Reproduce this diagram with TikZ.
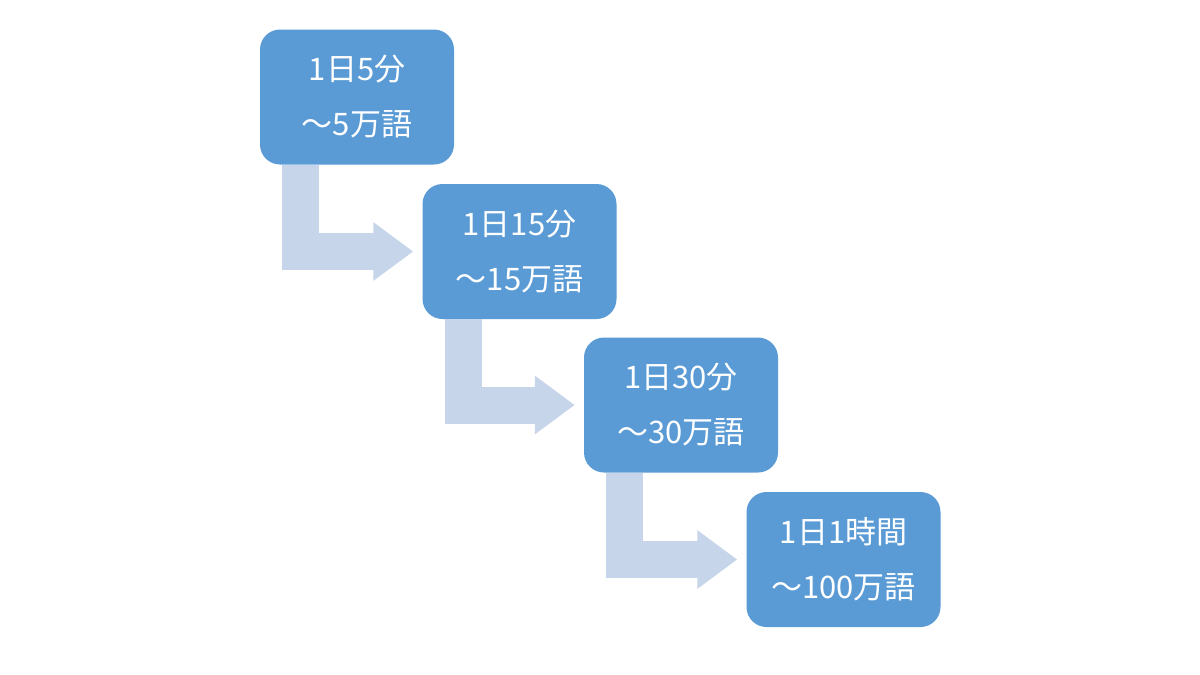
\documentclass[tikz,border=0pt]{standalone}
\usepackage{fontspec}
\setmainfont{Noto Sans CJK JP}
\usetikzlibrary{arrows.meta}
\definecolor{stepfill}{HTML}{5B9BD5}
\definecolor{bendfill}{HTML}{C6D5EA}

\begin{document}
\begin{tikzpicture}[
  x=1pt,
  y=-1pt,
  every node/.style={font=\fontsize{31}{55}\selectfont, white},
  stepbox/.style={fill=stepfill, rounded corners=20pt, minimum width=194pt,
    minimum height=135pt, inner sep=0pt, align=center},
  bendarrow/.style={draw=bendfill, line width=37pt, line join=miter,
    -{Triangle[length=40pt, width=56pt]}, shorten >=9pt}
]
\useasboundingbox (0,0) rectangle (1200,675);

% =====================================================================
% the four steps
% =====================================================================
\node[stepbox] (one)   at (357,97)    {1日5分\\～5万語};
\node[stepbox] (two)   at (519.5,251.5) {1日15分\\～15万語};
\node[stepbox] (three) at (681,405)   {1日30分\\～30万語};
\node[stepbox] (four)  at (843.5,559.5) {1日1時間\\～100万語};

% =====================================================================
% bent arrows between the steps
% =====================================================================
\draw[bendarrow] ([xshift=-56.5pt]one.south)   |- (two.west);
\draw[bendarrow] ([xshift=-56.5pt]two.south)   |- (three.west);
\draw[bendarrow] ([xshift=-56.5pt]three.south) |- (four.west);

\end{tikzpicture}
\end{document}
